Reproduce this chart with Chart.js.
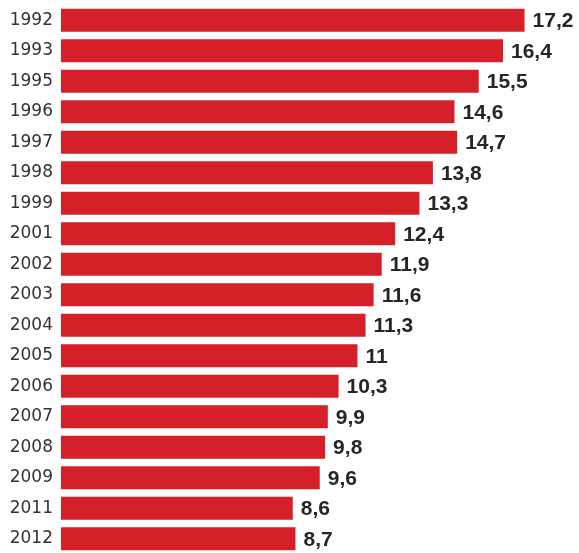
<!DOCTYPE html>
<html>
<head>
<meta charset="utf-8">
<script src="https://cdn.jsdelivr.net/npm/chart.js@4.4.1/dist/chart.umd.min.js"></script>
<style>
    html, body { margin: 0; padding: 0; background: #fff; overflow: hidden; }
    .wrap { position: relative; width: 579px; height: 555px; }
</style>
</head>
<body>
<div class="wrap"><canvas id="barChart"></canvas></div>
<script>
const years = ['1992', '1993', '1995', '1996', '1997', '1998', '1999', '2001', '2002',
    '2003', '2004', '2005', '2006', '2007', '2008', '2009', '2011', '2012'];
const values = [17.2, 16.4, 15.5, 14.6, 14.7, 13.8, 13.3, 12.4, 11.9,
    11.6, 11.3, 11, 10.3, 9.9, 9.8, 9.6, 8.6, 8.7];

// etiquetas de valor al final de cada barra
const valueLabels = {
    id: 'valueLabels',
    afterDatasetsDraw(chart) {
        const ctx = chart.ctx;
        const meta = chart.getDatasetMeta(0);
        ctx.save();
        ctx.font = 'bold 21px "Liberation Sans", Arial, sans-serif';
        ctx.fillStyle = '#262626';
        ctx.textAlign = 'left';
        ctx.textBaseline = 'middle';
        meta.data.forEach((bar, i) => {
            const txt = String(values[i]).replace('.', ',');
            ctx.fillText(txt, bar.x + 8, bar.y + 1);
        });
        ctx.restore();
    }
};

const ctx = document.getElementById('barChart').getContext('2d');
new Chart(ctx, {
    type: 'bar',
    data: {
        labels: years,
        datasets: [{
            data: values,
            backgroundColor: '#d5202a',
            borderWidth: 0,
            barPercentage: 0.75,
            categoryPercentage: 1
        }]
    },
    options: {
        indexAxis: 'y',
        responsive: true,
        maintainAspectRatio: false,
        animation: false,
        layout: { padding: { top: 5, bottom: 1, left: 0, right: 0 } },
        scales: {
            x: {
                display: false,
                min: 0,
                max: 19.22
            },
            y: {
                grid: { display: false, drawTicks: false },
                border: { display: false },
                ticks: {
                    color: '#333',
                    padding: 8,
                    font: { family: '"DejaVu Sans", sans-serif', size: 17 }
                },
                afterFit: (scale) => {
                    scale.width = 61;
                    scale.paddingTop = 0;
                    scale.paddingBottom = 0;
                }
            }
        },
        plugins: {
            legend: { display: false },
            tooltip: { enabled: false }
        }
    },
    plugins: [valueLabels]
});
</script>
</body>
</html>
